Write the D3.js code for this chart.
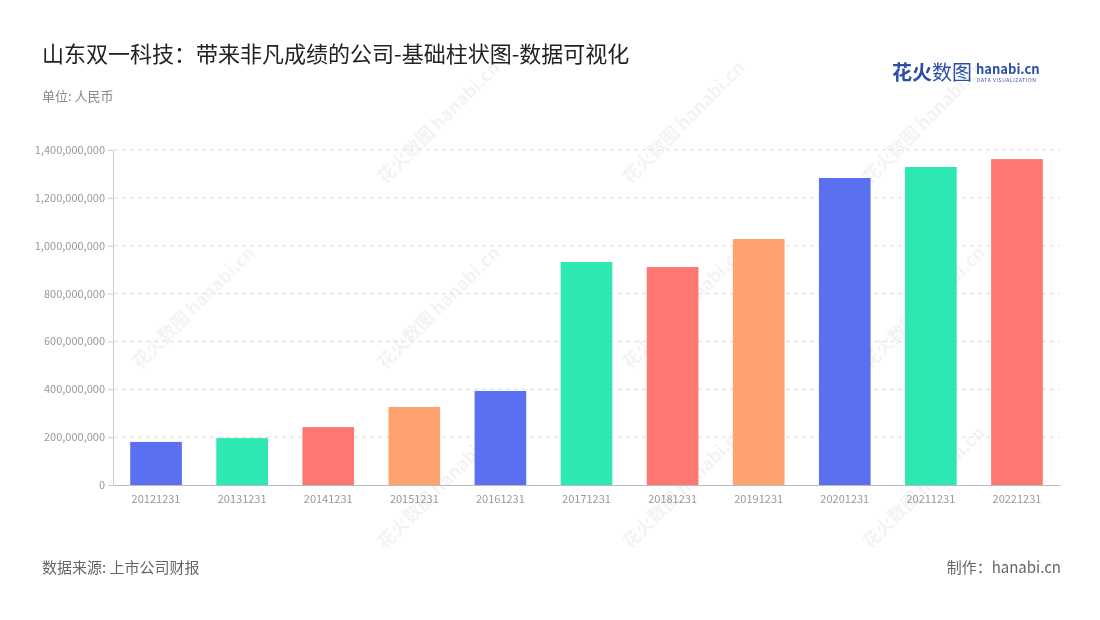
<!DOCTYPE html>
<html><head><meta charset="utf-8">
<script src="https://cdn.jsdelivr.net/npm/d3@7"></script>
<style>body{margin:0;background:#fff;font-family:"Noto Sans CJK SC","Noto Sans",sans-serif}</style>
</head><body><svg id="c" width="1100" height="620"></svg>
<script>
const categories=["20121231","20131231","20141231","20151231","20161231","20171231","20181231","20191231","20201231","20211231","20221231"];
const values=[180000000,196000000,242000000,326000000,393000000,932000000,911000000,1028000000,1283000000,1329000000,1362000000];
const palette=["#5a70f0","#2de8b2","#ff7770","#ffa271"];
const yTicks=[0,200000000,400000000,600000000,800000000,1000000000,1200000000,1400000000];

const svg=d3.select("#c");
const F='"Noto Sans CJK SC","Noto Sans",sans-serif';
const wm=svg.append("g").attr("opacity",0.05).attr("fill","#000").attr("font-family",F).attr("font-weight","bold");
[[385,185],[630,185],[870,185],[140,370],[385,370],[630,370],[870,370],[385,550],[630,550],[870,550]].forEach(([x,y])=>{
  wm.append("text").attr("transform",`translate(${x},${y}) rotate(-45)`).attr("font-size",18).text("花火数图 hanabi.cn");
});
svg.append("text").attr("x",42).attr("y",62).attr("font-size",22).attr("fill","#222").attr("font-family",F).text("山东双一科技：带来非凡成绩的公司-基础柱状图-数据可视化");
svg.append("text").attr("x",42).attr("y",101).attr("font-size",13).attr("fill","#888").attr("font-family",F).text("单位: 人民币");
svg.append("text").attr("x",42).attr("y",573).attr("font-size",15).attr("fill","#666").attr("font-family",F).text("数据来源: 上市公司财报");
svg.append("text").attr("x",1061).attr("y",573).attr("text-anchor","end").attr("font-size",15).attr("fill","#666").attr("font-family",F).text("制作：hanabi.cn");
svg.append("text").attr("x",892).attr("y",80).attr("font-size",20).attr("font-weight","bold").attr("fill","#2a4fa8").attr("font-family",F).text("花火");
svg.append("text").attr("x",932).attr("y",80).attr("font-size",20).attr("fill","#2a4fa8").attr("font-family",F).text("数图");
svg.append("text").attr("x",976).attr("y",74).attr("font-size",13).attr("font-weight","bold").attr("fill","#2a4fa8").attr("font-family",F).text("hanabi.cn");
svg.append("text").attr("x",977).attr("y",82).attr("font-size",5).attr("fill","#2a4fa8").attr("font-family",F).attr("letter-spacing",0.6).text("DATA VISUALIZATION");

const x=d3.scaleBand().domain(categories).range([113,1060]).paddingInner(0.4).paddingOuter(0.2);
const y=d3.scaleLinear().domain([0,1400000000]).range([485,150]);
const gy=svg.append("g").attr("transform","translate(113,0)").call(d3.axisLeft(y).tickValues(yTicks).tickFormat(d3.format(",")).tickSize(5));
gy.selectAll("text").attr("fill","#999").attr("font-size",11).attr("font-family",F);
gy.selectAll("line").attr("stroke","#ccc");gy.select(".domain").attr("stroke","#ccc");
svg.append("g").selectAll("line").data(yTicks.slice(1)).join("line").attr("x1",114).attr("x2",1060).attr("y1",d=>y(d)).attr("y2",d=>y(d)).attr("stroke","#ddd").attr("stroke-dasharray","4,4");
svg.append("g").selectAll("rect").data(values).join("rect").attr("x",(d,i)=>x(categories[i])).attr("width",x.bandwidth()).attr("y",d=>y(d)).attr("height",d=>485-y(d)).attr("fill",(d,i)=>palette[i%4]);
const gx=svg.append("g").attr("transform","translate(0,485)").call(d3.axisBottom(x).tickSize(0).tickPadding(10));
gx.selectAll("text").attr("fill","#999").attr("font-size",11).attr("font-family",F);
gx.select(".domain").attr("stroke","#bbb");
</script></body></html>
